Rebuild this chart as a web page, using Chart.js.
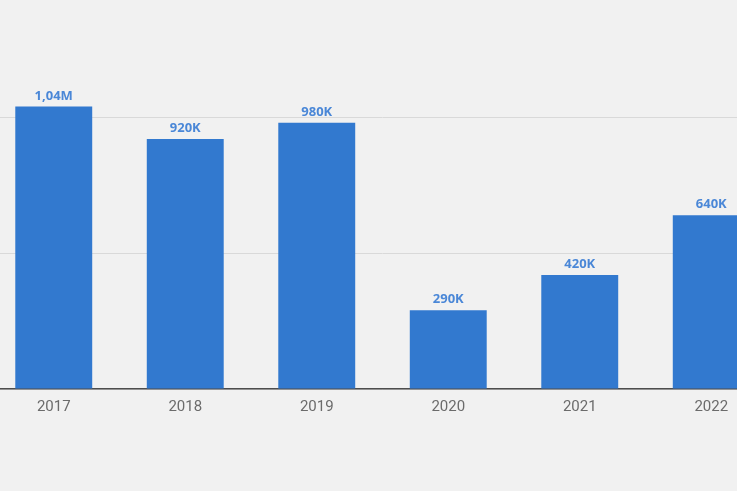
<!DOCTYPE html>
<html>
<head>
<meta charset="utf-8">
<script src="https://cdn.jsdelivr.net/npm/chart.js@4"></script>
<style>
  html, body { margin: 0; padding: 0; background: #f1f1f1; overflow: hidden; }
  #wrap { position: absolute; left: -12px; top: 0; width: 789px; height: 491px; }
</style>
</head>
<body>
<div id="wrap"><canvas id="barChart"></canvas></div>
<script>
var years = ["2017", "2018", "2019", "2020", "2021", "2022"];
var totals = [1040000, 920000, 980000, 290000, 420000, 640000];
var gridSteps = [0, 500000, 1000000];

function shortLabel(v) {
  if (v >= 1000000) return (v / 1000000).toFixed(2).replace(".", ",") + "M";
  return Math.round(v / 1000) + "K";
}

// draws the value above every bar
var barLabels = {
  id: "barLabels",
  afterDatasetsDraw: function (chart) {
    var ctx = chart.ctx;
    var meta = chart.getDatasetMeta(0);
    ctx.save();
    ctx.font = "bold 13px 'Open Sans'";
    ctx.fillStyle = "#4a87d7";
    ctx.textAlign = "center";
    ctx.textBaseline = "bottom";
    meta.data.forEach(function (bar, i) {
      ctx.fillText(shortLabel(totals[i]), bar.x, bar.y - 4);
    });
    ctx.restore();
  }
};

new Chart(document.getElementById("barChart"), {
  type: "bar",
  data: {
    labels: years,
    datasets: [{
      data: totals,
      backgroundColor: "#3279cf",
      categoryPercentage: 1,
      barPercentage: 0.585
    }]
  },
  options: {
    responsive: true,
    maintainAspectRatio: false,
    animation: false,
    layout: { padding: { top: 0, bottom: 66, left: 0, right: 0 } },
    plugins: { legend: { display: false }, tooltip: { enabled: false } },
    scales: {
      x: {
        grid: { display: false, drawTicks: false },
        border: { color: "#4d4d4d", width: 1.5 },
        ticks: { color: "#6b6b6b", font: { family: "Roboto", size: 15 }, padding: 9 }
      },
      y: {
        min: 0,
        max: 1432000,
        afterBuildTicks: function (axis) {
          axis.ticks = gridSteps.map(function (v) { return { value: v }; });
        },
        ticks: { display: false },
        border: { display: false },
        grid: { color: "#d9d9d9", lineWidth: 1, drawTicks: false }
      }
    }
  },
  plugins: [barLabels]
});
</script>
</body>
</html>
